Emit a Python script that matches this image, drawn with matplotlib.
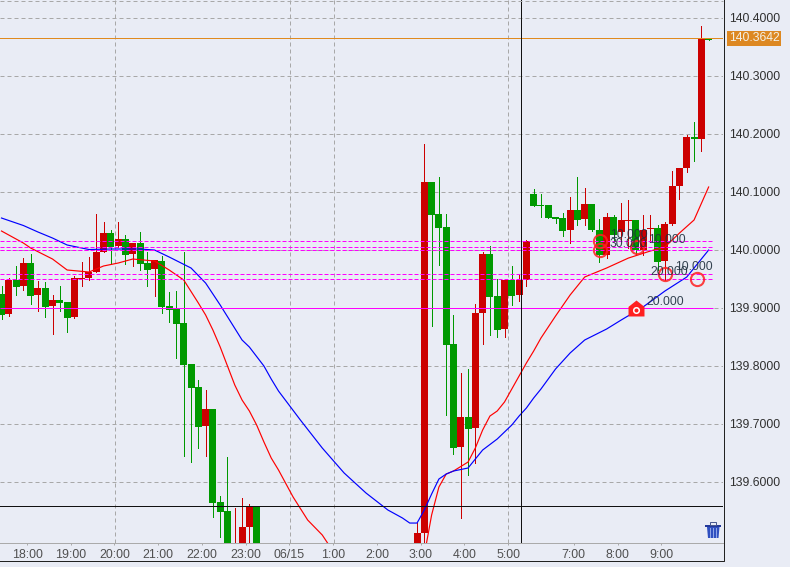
import matplotlib
matplotlib.use("Agg")
import matplotlib.pyplot as plt
from matplotlib.path import Path
from matplotlib.patches import Polygon, Rectangle

plt.rcParams['font.family'] = ['Liberation Sans', 'DejaVu Sans']

# 10 minute candles, the ones from 36 to 56 are below the visible range
candle_idx = list(range(36)) + list(range(57, 98))
opens = [139.9233, 139.8888, 139.9474, 139.9371, 139.9767, 139.9216, 139.9336, 139.9026, 139.9129, 139.9095,
         139.8836, 139.9491, 139.9509, 139.9612, 139.9957, 140.0284, 140.0060, 140.0181, 139.9922, 140.0112,
         139.9767, 139.9664, 139.9802, 139.9026, 139.8974, 139.8733, 139.8026, 139.7629, 139.6957, 139.7250,
         139.5647, 139.5491, 139.4647, 139.4560, 139.5216, 139.5560,
         139.4560, 139.5112, 140.1164, 140.0612, 140.0388, 139.8371, 139.6595, 139.7112, 139.6922, 139.8905,
         139.9922, 139.9198, 139.8629, 139.9474, 139.9216, 139.9474, 140.0957, 140.0767, 140.0767, 140.0560,
         140.0543, 140.0336, 140.0681, 140.0526, 140.0784, 140.0336, 139.9905, 140.0560, 140.0302, 140.0491,
         140.0509, 139.9991, 140.0354, 140.0371, 139.9802, 140.0440, 140.1095, 140.1405, 140.1940, 140.1905,
         140.3642]
closes = [139.8876, 139.9474, 139.9353, 139.9767, 139.9198, 139.9336, 139.9009, 139.9129, 139.9078, 139.8819,
          139.9509, 139.9509, 139.9612, 139.9957, 140.0284, 140.0043, 140.0181, 139.9905, 140.0112, 139.9750,
          139.9647, 139.9819, 139.9009, 139.8957, 139.8716, 139.8009, 139.7612, 139.6940, 139.7250, 139.5629,
          139.5474, 139.4560, 139.4853, 139.5216, 139.5560, 139.4560,
          139.5112, 140.1164, 140.0595, 140.0371, 139.8353, 139.6578, 139.7112, 139.6905, 139.8905, 139.9922,
          139.9181, 139.8612, 139.9474, 139.9198, 139.9474, 140.0147, 140.0750, 140.0750, 140.0543, 140.0526,
          140.0319, 140.0681, 140.0509, 140.0784, 140.0336, 139.9905, 140.0560, 140.0250, 140.0509, 140.0509,
          139.9991, 140.0336, 140.0371, 139.9784, 140.0440, 140.1095, 140.1405, 140.1940, 140.1897, 140.3629,
          140.3612]
highs = [139.9371, 139.9509, 139.9716, 139.9853, 139.9922, 139.9457, 139.9440, 139.9216, 139.9371, 139.9095,
         139.9543, 139.9784, 139.9871, 140.0612, 140.0474, 140.0336, 140.0474, 140.0250, 140.0112, 140.0302,
         139.9957, 139.9819, 139.9888, 139.9267, 139.9284, 139.9957, 139.8026, 139.7750, 139.7578, 139.7250,
         139.5750, 139.6422, 139.5543, 139.5716, 139.5612, 139.5560,
         139.5284, 140.1819, 140.1164, 140.1250, 140.0612, 139.8871, 139.7871, 139.7940, 139.9060, 139.9957,
         140.0060, 139.9491, 139.9474, 139.9716, 139.9560, 140.0164, 140.1043, 140.0957, 140.0767, 140.0560,
         140.0629, 140.0905, 140.1250, 140.1060, 140.0784, 140.0526, 140.0629, 140.0595, 140.0802, 140.0853,
         140.0509, 140.0595, 140.0595, 140.0422, 140.0474, 140.1353, 140.1405, 140.1974, 140.2198, 140.3853,
         140.3642]
lows = [139.8807, 139.8853, 139.9221, 139.9302, 139.9060, 139.8940, 139.8836, 139.8543, 139.8940, 139.8578,
        139.8819, 139.9371, 139.9474, 139.9612, 139.9957, 139.9750, 140.0043, 139.9750, 139.9716, 139.9647,
        139.9371, 139.9198, 139.8905, 139.8750, 139.8129, 139.6440, 139.6336, 139.6578, 139.6440, 139.5388,
        139.5043, 139.4560, 139.4560, 139.4560, 139.4957, 139.4560,
        139.4560, 139.4905, 139.8681, 139.9733, 139.7147, 139.6474, 139.5371, 139.6112, 139.6319, 139.8371,
        139.8526, 139.8491, 139.8491, 139.9043, 139.9112, 139.9371, 140.0750, 140.0560, 140.0543, 140.0457,
        140.0233, 140.0112, 140.0422, 140.0422, 140.0319, 139.9784, 139.9853, 140.0164, 140.0164, 140.0026,
        139.9922, 139.9905, 140.0129, 139.9647, 139.9474, 140.0422, 140.0871, 140.1336, 140.1526, 140.1698,
        140.3612]

# moving averages
ma_blue_idx = [0, 3, 5, 7, 9, 12, 15, 19, 21, 23, 26, 28, 30, 33, 34, 36, 37, 38, 41, 44, 47, 50, 53, 55, 56, 57,
               58, 59, 60, 61, 62, 64, 66, 68, 70, 71, 72, 73, 74, 76, 78, 80, 83, 85, 88, 91, 94, 97]
ma_blue = [140.0543, 140.0414, 140.0302, 140.0198, 140.0078, 140.0000, 140.0009, 140.0009, 139.9991, 139.9871,
           139.9681, 139.9422, 139.9043, 139.8440, 139.8319, 139.7991, 139.7767, 139.7560, 139.7060, 139.6578,
           139.6147, 139.5802, 139.5509, 139.5371, 139.5284, 139.5284, 139.5509, 139.5784, 139.6043, 139.6129,
           139.6181, 139.6233, 139.6543, 139.6733, 139.6974, 139.7129, 139.7267, 139.7440, 139.7595, 139.7940,
           139.8216, 139.8440, 139.8629, 139.8784, 139.9009, 139.9284, 139.9526, 139.9991]
ma_red_idx = [0, 3, 4, 7, 9, 12, 14, 16, 18, 21, 23, 25, 27, 28, 29, 30, 31, 32, 33, 34, 35, 36, 37, 38, 40, 42, 44,
              45, 50, 55, 57, 58, 59, 60, 61, 62, 64, 65, 66, 67, 68, 69, 71, 72, 73, 74, 76, 78, 80, 83, 86, 89,
              91, 93, 95, 97]
ma_red = [140.0319, 140.0112, 140.0026, 139.9836, 139.9647, 139.9612, 139.9716, 139.9767, 139.9836, 139.9802,
          139.9647, 139.9474, 139.9078, 139.8871, 139.8612, 139.8319, 139.7991, 139.7664, 139.7405, 139.7216,
          139.6974, 139.6681, 139.6405, 139.6198, 139.5733, 139.5336, 139.5078, 139.4888, 139.4388, 139.4302,
          139.4474, 139.4733, 139.5422, 139.5905, 139.6129, 139.6181, 139.6336, 139.6578, 139.6888, 139.7129,
          139.7216, 139.7371, 139.7819, 139.8043, 139.8250, 139.8474, 139.8853, 139.9216, 139.9526, 139.9681,
          139.9853, 139.9974, 140.0043, 140.0284, 140.0509, 140.1078]

# order levels
dashed_levels = [140.0152, 140.0038, 139.9986, 139.9572, 139.9486]
solid_level = 139.8986
order_idx = [82.1, 82.1, 87.2, 91.0, 95.4]
order_price = [140.0152, 139.9986, 140.0038, 139.9572, 139.9486]

time_idx = [3.5, 9.5, 15.5, 21.5, 27.5, 33.5, 39.5, 45.5, 51.5, 57.5, 63.5, 69.5, 78.5, 84.5, 90.5]
time_labels = ['18:00', '19:00', '20:00', '21:00', '22:00', '23:00', '06/15', '1:00', '2:00', '3:00', '4:00',
               '5:00', '7:00', '8:00', '9:00']
grid_times = [15.6, 39.6, 45.6, 69.5]
price_ticks = [139.6, 139.7, 139.8, 139.9, 140.0, 140.1, 140.2, 140.3, 140.4]
last_price = 140.3642
cross_idx = 71.2
cross_price = 139.5586

BG = '#E9ECF5'
UP = '#CC0000'
DOWN = '#009900'
W, H = 790, 567

fig = plt.figure(figsize=(W / 100, H / 100), dpi=100, facecolor=BG)
ax = fig.add_axes([0, (H - 543) / H, 723 / W, 543 / H], facecolor=BG)
ax.set_xlim(-1.5 / 7.29, 721.5 / 7.29)
ax.set_ylim(139.4940, 140.4302)

# grid
px = 0.72
dash = (0, (4, 3))
for p in price_ticks:
    ax.axhline(p, color='#A8A8A8', lw=px, ls=dash, zorder=1)
for t in grid_times:
    ax.axvline(t, color='#A8A8A8', lw=px, ls=dash, zorder=1)

# candles
colors = [UP if c >= o else DOWN for o, c in zip(opens, closes)]
ax.vlines(candle_idx, lows, highs, colors=colors, lw=px, zorder=2, antialiased=False)
ax.bar(candle_idx, [abs(c - o) for o, c in zip(opens, closes)],
       bottom=[min(o, c) for o, c in zip(opens, closes)],
       width=0.96, color=colors, lw=0, zorder=3, antialiased=False)

ax.plot(ma_red_idx, ma_red, color='#FF0000', lw=0.85, zorder=4)
ax.plot(ma_blue_idx, ma_blue, color='#0000FF', lw=0.85, zorder=4)

# levels
ax.hlines(dashed_levels, -0.2, 97.6, colors='#FF00FF', lw=px, linestyles=[(0, (4, 2))], zorder=5)
ax.hlines(solid_level, -0.2, 97.6, colors='#FF00FF', lw=px, zorder=5)
ax.axhline(last_price, color='#E08A1E', lw=px, zorder=5)
ax.axvline(cross_idx, color='#111111', lw=px, zorder=6)
ax.axhline(cross_price, color='#111111', lw=px, zorder=6)

# orders
ax.plot(order_idx, order_price, ls='none', marker='o', ms=9.5, mfc='none', mec='#FF2020', mew=1.5, alpha=0.85, zorder=7)
house = Path([(0, 1), (1, 0.2), (1, -1), (-1, -1), (-1, 0.2), (0, 1)])
ax.plot([87.1], [solid_level], ls='none', marker=house, ms=11.5, mfc='#FF2020', mec='#FF2020', mew=0, zorder=7)
ax.plot([87.1], [solid_level - 0.0025], ls='none', marker='o', ms=4, mfc='#FF2020', mec='white', mew=1.1, zorder=8)

order_text = [('10.000', 82.1, 140.0152, 10, 6), ('30.000', 82.1, 139.9986, 10, 6), ('10.000', 87.2, 140.0038, 11, 7),
              ('20.000', 91.0, 139.9572, -14, 2), ('10.000', 95.4, 139.9486, -22, 12), ('20.000', 87.1, solid_level, 10, 6)]
for s, i, p, dx, dy in order_text:
    ax.annotate(s, xy=(i, p), xytext=(dx, dy), textcoords='offset pixels', va='center', ha='left',
                fontsize=8.7, color='#20303F', alpha=0.9, zorder=9)

# axes
for name in ['top', 'left', 'right']:
    ax.spines[name].set_visible(False)
ax.spines['bottom'].set_color('#AAAAAA')
ax.spines['bottom'].set_linewidth(px)
ax.set_xticks(time_idx)
ax.set_xticklabels(time_labels, fontsize=8.9, color='#505050')
ax.tick_params(axis='x', length=1.5, width=px, color='#AAAAAA', pad=2.5)
ax.yaxis.tick_right()
ax.set_yticks(price_ticks)
ax.set_yticklabels(['%.4f' % p for p in price_ticks], fontsize=8.8, color='#303030')
ax.tick_params(axis='y', length=0, pad=4.3)

ax.annotate('%.4f' % last_price, xy=(1, last_price), xycoords=ax.get_yaxis_transform(), xytext=(6, 0),
            textcoords='offset pixels', va='center', ha='left', fontsize=8.8, color='#F4F0E4',
            bbox=dict(fc='#DD8822', ec='none', pad=1.2), annotation_clip=False)

# frame and trash icon on a plain pixel layer
top = fig.add_axes([0, 0, 1, 1])
top.set_xlim(0, W)
top.set_ylim(H, 0)
top.axis('off')
top.plot([0, 723.5, 723.5], [560.5, 560.5, 0], color='#222222', lw=px)
top.plot([0, 723], [0.5, 0.5], color='#A8A8A8', lw=px, ls=dash)
top.add_patch(Polygon([(707, 527), (719.5, 527), (718.5, 538), (708, 538)], fc='#2F4FC0', ec='none'))
top.add_patch(Rectangle((705, 524.5), 16, 2.2, fc='#23399A', ec='none'))
top.add_patch(Rectangle((710, 522), 6, 2.5, fc='none', ec='#4A5A90', lw=px))
for x in [710, 713, 716]:
    top.plot([x, x], [528, 537], color='#8FA5E8', lw=px)

fig.savefig('out.png', dpi=100, facecolor=BG)
